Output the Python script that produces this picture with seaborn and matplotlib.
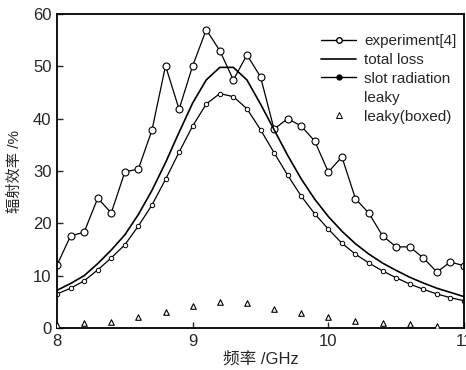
import matplotlib
matplotlib.use("Agg")
import matplotlib.pyplot as plt
import seaborn as sns
import pandas as pd
from matplotlib.lines import Line2D

freq = [8.0, 8.1, 8.2, 8.3, 8.4, 8.5, 8.6, 8.7, 8.8, 8.9, 9.0, 9.1, 9.2, 9.3, 9.4, 9.5,
        9.6, 9.7, 9.8, 9.9, 10.0, 10.1, 10.2, 10.3, 10.4, 10.5, 10.6, 10.7, 10.8, 10.9, 11.0]
experiment = [12.0, 17.6, 18.3, 24.8, 22.0, 29.8, 30.4, 37.8, 50.1, 41.8, 50.1, 57.0, 53.0, 47.4,
              52.2, 48.0, 38.0, 40.0, 38.6, 35.7, 29.8, 32.7, 24.7, 21.9, 17.6, 15.5, 15.5, 13.4,
              10.7, 12.6, 11.9]
total_loss = [7.2, 8.5, 10.0, 12.3, 14.9, 17.8, 21.7, 26.3, 31.6, 37.4, 43.0, 47.4, 49.8, 49.8,
              47.4, 42.8, 37.9, 33.0, 28.5, 24.6, 21.3, 18.5, 16.1, 14.1, 12.4, 11.0, 9.7, 8.6,
              7.6, 6.8, 6.0]
slot_radiation = [6.5, 7.6, 9.0, 11.1, 13.4, 15.9, 19.5, 23.5, 28.4, 33.6, 38.6, 42.8, 44.8, 44.2,
                  41.9, 37.9, 33.5, 29.2, 25.2, 21.8, 18.9, 16.2, 14.1, 12.4, 10.9, 9.6, 8.4, 7.4,
                  6.5, 5.8, 5.2]
freq_boxed = [8.0, 8.2, 8.4, 8.6, 8.8, 9.0, 9.2, 9.4, 9.6, 9.8, 10.0, 10.2, 10.4, 10.6, 10.8]
leaky_boxed = [0.5, 1.0, 1.2, 2.1, 3.1, 4.2, 5.0, 4.7, 3.7, 2.8, 2.1, 1.4, 1.0, 0.8, 0.4]

x_ticks = [8, 9, 10, 11]
y_ticks = [0, 10, 20, 30, 40, 50, 60]

sns.set_style("ticks")
plt.rcParams['font.family'] = ['Liberation Sans', 'Noto Sans CJK SC', 'DejaVu Sans']
plt.rcParams['xtick.direction'] = 'in'
plt.rcParams['ytick.direction'] = 'in'

df = pd.DataFrame({"f": freq, "exp": experiment, "tot": total_loss, "slot": slot_radiation})
dfb = pd.DataFrame({"f": freq_boxed, "lb": leaky_boxed})

fig = plt.figure(figsize=(4.66, 3.70), dpi=100)
ax = fig.add_axes([57/466, 1 - 328/370, (464-57)/466, (328-14)/370])

sns.lineplot(data=df, x="f", y="exp", ax=ax, color="black", lw=0.9, marker="o",
             markersize=5, markerfacecolor="white", markeredgecolor="black", markeredgewidth=0.8)
sns.lineplot(data=df, x="f", y="tot", ax=ax, color="black", lw=1.2)
sns.lineplot(data=df, x="f", y="slot", ax=ax, color="black", lw=0.9, marker="o",
             markersize=3.2, markerfacecolor="white", markeredgecolor="black", markeredgewidth=0.7)
sns.scatterplot(data=dfb, x="f", y="lb", ax=ax, marker="^", s=16, facecolor="white",
                edgecolor="black", linewidth=0.8, zorder=3)

ax.set_xlim(8, 11)
ax.set_ylim(0, 60)
ax.set_xticks(x_ticks)
ax.set_xticklabels([str(t) for t in x_ticks])
ax.set_yticks(y_ticks)
ax.set_yticklabels([str(t) for t in y_ticks])
ax.tick_params(labelsize=12, length=4, width=1, pad=4)
for s in ax.spines.values():
    s.set_linewidth(1.3)
    s.set_color("black")

ax.set_xlabel("频率 /GHz", fontsize=12, labelpad=2)
ax.set_ylabel("辐射效率 /%", fontsize=11, labelpad=8)

handles = [
    Line2D([], [], color="black", lw=1.0, marker="o", markersize=4, markerfacecolor="white"),
    Line2D([], [], color="black", lw=1.2),
    Line2D([], [], color="black", lw=1.0, marker="o", markersize=3.5, markerfacecolor="black"),
    Line2D([], [], color="none", lw=0),
    Line2D([], [], color="none", lw=0, marker="^", markersize=4, markerfacecolor="white",
           markeredgecolor="black", markeredgewidth=0.7),
]
labels = ["experiment[4]", "total loss", "slot radiation", "leaky", "leaky(boxed)"]
ax.legend(handles, labels, loc="upper right", bbox_to_anchor=(1.015, 0.98), frameon=False,
          fontsize=11, handlelength=2.3, labelspacing=0.32, handletextpad=0.5)

fig.savefig("out.png", dpi=100)
